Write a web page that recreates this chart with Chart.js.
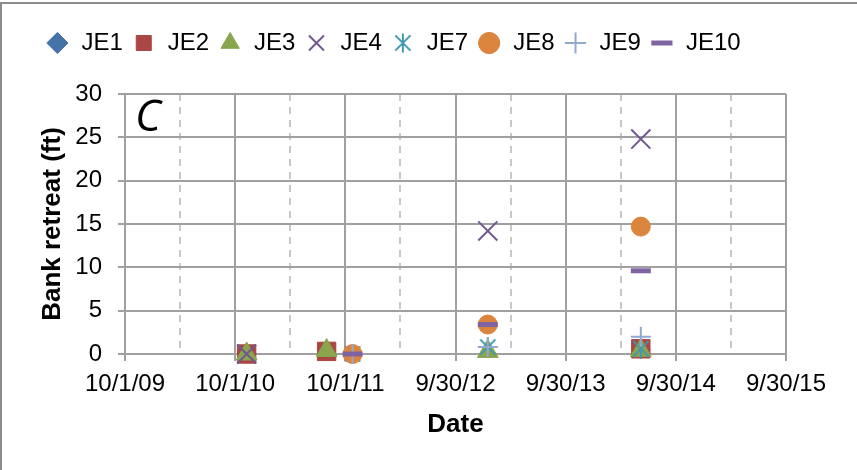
<!DOCTYPE html>
<html>
<head>
<meta charset="utf-8">
<script src="https://cdn.jsdelivr.net/npm/chart.js@4.4.1/dist/chart.umd.min.js"></script>
<style>
  html, body { margin: 0; padding: 0; background: #fff; }
  #wrap { position: relative; width: 857px; height: 470px; }
</style>
</head>
<body>
<div id="wrap"><canvas id="chart" width="857" height="470" style="width:857px;height:470px"></canvas></div>
<script>
// axis labels (Excel date axis, one major unit = 365 days)
const tickDates = ['10/1/09', '10/1/10', '10/1/11', '9/30/12', '9/30/13', '9/30/14', '9/30/15'];
const yTicks = [0, 5, 10, 15, 20, 25, 30];

// survey dates and bank retreat (ft) per site, null = not surveyed
const surveyDates = ['11/8/10', '7/31/11', '10/25/11', '1/15/13', '6/6/14'];
const seriesNames = ['JE1', 'JE2', 'JE3', 'JE4', 'JE7', 'JE8', 'JE9', 'JE10'];
const je1 = [0, 0.3, null, null, 0.5];
const je2 = [0, 0.3, null, null, 0.6];
const je3 = [0, 0.4, null, 0.3, 0.4];
const je4 = [0, null, null, 14.2, 24.8];
const je7 = [null, null, 0, 0.8, 0.6];
const je8 = [null, null, 0, 3.4, 14.7];
const je9 = [null, null, 0, 0.8, 2.0];
const je10 = [null, null, 0, 3.4, 9.6];

function toSerial(s) {
  const [m, d, y] = s.split('/').map(Number);
  return Date.UTC(2000 + y, m - 1, d) / 86400000 + 25569;
}

const majorTicks = tickDates.map(toSerial);
const allTicks = [];
majorTicks.forEach((v, i) => {
  allTicks.push(v);
  if (i < majorTicks.length - 1) allTicks.push((v + majorTicks[i + 1]) / 2);
});
const isMajor = v => majorTicks.includes(v);

const surveyX = surveyDates.map(toSerial);
const points = vals => vals
  .map((v, i) => (v === null ? null : { x: surveyX[i], y: v }))
  .filter(p => p);

// Excel-style asterisk marker: an X with a vertical bar
function asterisk(color, size) {
  const c = document.createElement('canvas');
  c.width = size;
  c.height = size;
  const g = c.getContext('2d');
  const m = size / 2, r = size / 2 - 1.5;
  g.strokeStyle = color;
  g.lineWidth = 2;
  g.beginPath();
  g.moveTo(m - r * 0.8, m - r * 0.8); g.lineTo(m + r * 0.8, m + r * 0.8);
  g.moveTo(m + r * 0.8, m - r * 0.8); g.lineTo(m - r * 0.8, m + r * 0.8);
  g.moveTo(m, m - r); g.lineTo(m, m + r);
  g.stroke();
  return c;
}

const styles = [
  { color: '#4572a7', pointStyle: 'rectRot', radius: 9, borderWidth: 1 },
  { color: '#aa4643', pointStyle: 'rect', radius: 13, borderWidth: 1 },
  { color: '#89a54e', pointStyle: 'triangle', radius: 12, borderWidth: 1 },
  { color: '#71588f', pointStyle: 'crossRot', radius: 13.5, borderWidth: 2 },
  { color: '#4198af', pointStyle: asterisk('#4198af', 22), radius: 10, borderWidth: 2 },
  { color: '#db843d', pointStyle: 'circle', radius: 9.5, borderWidth: 1 },
  { color: '#93a9cf', pointStyle: 'cross', radius: 10, borderWidth: 2 },
  { color: '#8064a2', pointStyle: 'line', radius: 10, borderWidth: 5 },
];
const values = [je1, je2, je3, je4, je7, je8, je9, je10];

const datasets = seriesNames.map((name, i) => ({
  label: name,
  data: points(values[i]),
  pointStyle: styles[i].pointStyle,
  pointRadius: styles[i].radius,
  pointHoverRadius: styles[i].radius,
  backgroundColor: styles[i].color,
  borderColor: styles[i].color,
  borderWidth: styles[i].borderWidth,
  pointBorderWidth: styles[i].borderWidth,
  showLine: false,
  clip: false,
  order: seriesNames.length - 1 - i,   // later series drawn on top, like Excel
}));

const frame = {
  id: 'frame',
  beforeDraw(chart) {
    const c = chart.ctx;
    c.save();
    c.strokeStyle = '#8c8c8c';
    c.lineWidth = 2;
    c.beginPath();
    c.moveTo(1, 480);
    c.lineTo(1, 3);
    c.lineTo(860, 3);
    c.stroke();
    c.restore();
  },
  afterDraw(chart) {
    const c = chart.ctx;
    const a = chart.chartArea;
    c.save();
    c.fillStyle = '#000';
    c.font = 'italic 44px "Open Sans"';
    c.textBaseline = 'alphabetic';
    c.fillText('C', a.left + 10, a.top + 37);
    c.restore();
  }
};

new Chart(document.getElementById('chart'), {
  type: 'scatter',
  data: { datasets },
  plugins: [frame],
  options: {
    responsive: false,
    animation: false,
    layout: { padding: { top: 22, left: 0, right: 71, bottom: 0 } },
    plugins: {
      tooltip: { enabled: false },
      legend: {
        position: 'top',
        labels: {
          usePointStyle: true,
          boxHeight: 15,
          padding: 9,
          color: '#000',
          font: { family: '"Liberation Sans", Arial', size: 24 },
          sort: (a, b) => a.datasetIndex - b.datasetIndex,
        },
      },
      title: {
        display: true,
        text: '',
        weight: 500,
        font: { size: 10 },
        padding: { top: 17, bottom: 0 },
      },
    },
    scales: {
      x: {
        type: 'linear',
        min: majorTicks[0],
        max: majorTicks[majorTicks.length - 1],
        afterBuildTicks: axis => { axis.ticks = allTicks.map(v => ({ value: v })); },
        afterFit: axis => { axis.height = 116; },
        ticks: {
          autoSkip: false,
          maxRotation: 0,
          padding: 9,
          color: '#000',
          font: { family: '"Liberation Sans", Arial', size: 24 },
          callback: v => (isMajor(v) ? tickDates[majorTicks.indexOf(v)] : ''),
        },
        grid: {
          color: ctx => (ctx.tick && !isMajor(ctx.tick.value) ? '#c8c8c8' : '#a0a0a0'),
          lineWidth: 2,
          tickLength: 7,
          tickColor: ctx => (ctx.tick && !isMajor(ctx.tick.value) ? 'rgba(0,0,0,0)' : '#a0a0a0'),
        },
        border: {
          color: '#a0a0a0',
          width: 2,
          dash: ctx => (ctx.tick && !isMajor(ctx.tick.value) ? [7, 6] : []),
        },
        title: {
          display: true,
          text: 'Date',
          color: '#000',
          font: { family: '"Liberation Sans", Arial', size: 26, weight: 'bold' },
          padding: { top: 0, bottom: 30 },
        },
      },
      y: {
        min: 0,
        max: 30,
        afterBuildTicks: axis => { axis.ticks = yTicks.map(v => ({ value: v })); },
        afterFit: axis => { axis.width = 125; },
        ticks: {
          padding: 16,
          color: '#000',
          font: { family: '"Liberation Sans", Arial', size: 24 },
        },
        grid: { color: '#a0a0a0', lineWidth: 2, tickLength: 7, tickColor: '#a0a0a0' },
        border: { color: '#a0a0a0', width: 2 },
        title: {
          display: true,
          text: 'Bank retreat (ft)',
          color: '#000',
          font: { family: '"Liberation Sans", Arial', size: 26, weight: 'bold' },
          padding: { top: 37, bottom: 0 },
        },
      },
    },
  },
});
</script>
</body>
</html>
